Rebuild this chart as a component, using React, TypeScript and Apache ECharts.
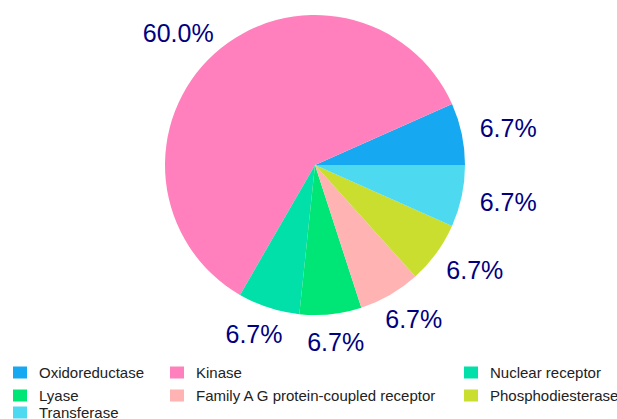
import React, { useEffect, useRef } from "react";
import * as echarts from "echarts";

// Target classes and how many compounds fall in each
const classNames = [
  "Oxidoreductase",
  "Kinase",
  "Nuclear receptor",
  "Lyase",
  "Family A G protein-coupled receptor",
  "Phosphodiesterase",
  "Transferase",
];
const classCounts = [1, 9, 1, 1, 1, 1, 1];
const classColors = [
  "#16A8F0",
  "#FF80BD",
  "#00E0A8",
  "#00E676",
  "#FFB3B3",
  "#C9DE2F",
  "#4DD9F0",
];

// Legend laid out as a grid: one list per column
const legendColumns = [
  ["Oxidoreductase", "Lyase"],
  ["Kinase", "Family A G protein-coupled receptor"],
  ["Nuclear receptor", "Phosphodiesterase"],
  ["Transferase"],
];

const CX = 315;
const CY = 165;
const FONT = "'Liberation Sans', Arial, Helvetica, sans-serif";

export default function App() {
  const ref = useRef<HTMLDivElement>(null);

  useEffect(() => {
    if (!ref.current) return;
    const chart = echarts.init(ref.current, undefined, { renderer: "svg" });

    const pieData = classNames.map((name, i) => ({
      name,
      value: classCounts[i],
      itemStyle: { color: classColors[i] },
    }));

    const legendPos = [
      { left: 13, top: 365 },
      { left: 170, top: 365 },
      { left: 464, top: 365 },
      { left: 13, top: 405 },
    ];

    const legends = legendColumns.map((col, i) => ({
      orient: "vertical" as const,
      left: legendPos[i].left,
      top: legendPos[i].top,
      padding: 0,
      itemGap: 8,
      itemWidth: 14,
      itemHeight: 12,
      icon: "rect",
      selectedMode: false,
      data: col,
      textStyle: {
        fontFamily: FONT,
        fontSize: 15,
        color: "#222",
        padding: [0, 0, 0, 7],
      },
    }));

    chart.setOption({
      animation: false,
      backgroundColor: "#ffffff",
      legend: legends,
      series: [
        {
          type: "pie",
          center: [CX, CY],
          radius: [0, 150],
          startAngle: 0,
          clockwise: false,
          data: pieData,
          label: { show: false },
          labelLine: { show: false },
          emphasis: { disabled: true },
          silent: true,
        },
        {
          // invisible ring that carries the percentage labels
          type: "pie",
          center: [CX, CY],
          radius: [156, 176],
          startAngle: 0,
          clockwise: false,
          data: classNames.map((name, i) => ({ name, value: classCounts[i] })),
          itemStyle: { color: "rgba(0,0,0,0)" },
          silent: true,
          emphasis: { disabled: true },
          labelLine: { show: false },
          label: {
            show: true,
            position: "inside",
            fontFamily: FONT,
            fontSize: 25,
            color: "#000080",
            formatter: (p: any) => `${p.percent.toFixed(1)}%`,
          },
          // push each label outward so its box sits just beyond the anchor
          labelLayout: (p: any) => {
            const r = p.labelRect;
            const lx = r.x + r.width / 2;
            const ly = r.y + r.height / 2;
            const vx = lx - CX;
            const vy = ly - CY;
            const d = Math.hypot(vx, vy) || 1;
            return {
              dx: (vx / d) * (r.width / 2),
              dy: (vy / d) * (r.height * 0.36),
            };
          },
        },
      ],
    });

    return () => chart.dispose();
  }, []);

  return (
    <div
      ref={ref}
      style={{ position: "fixed", left: 0, top: 0, width: 617, height: 419 }}
    />
  );
}
